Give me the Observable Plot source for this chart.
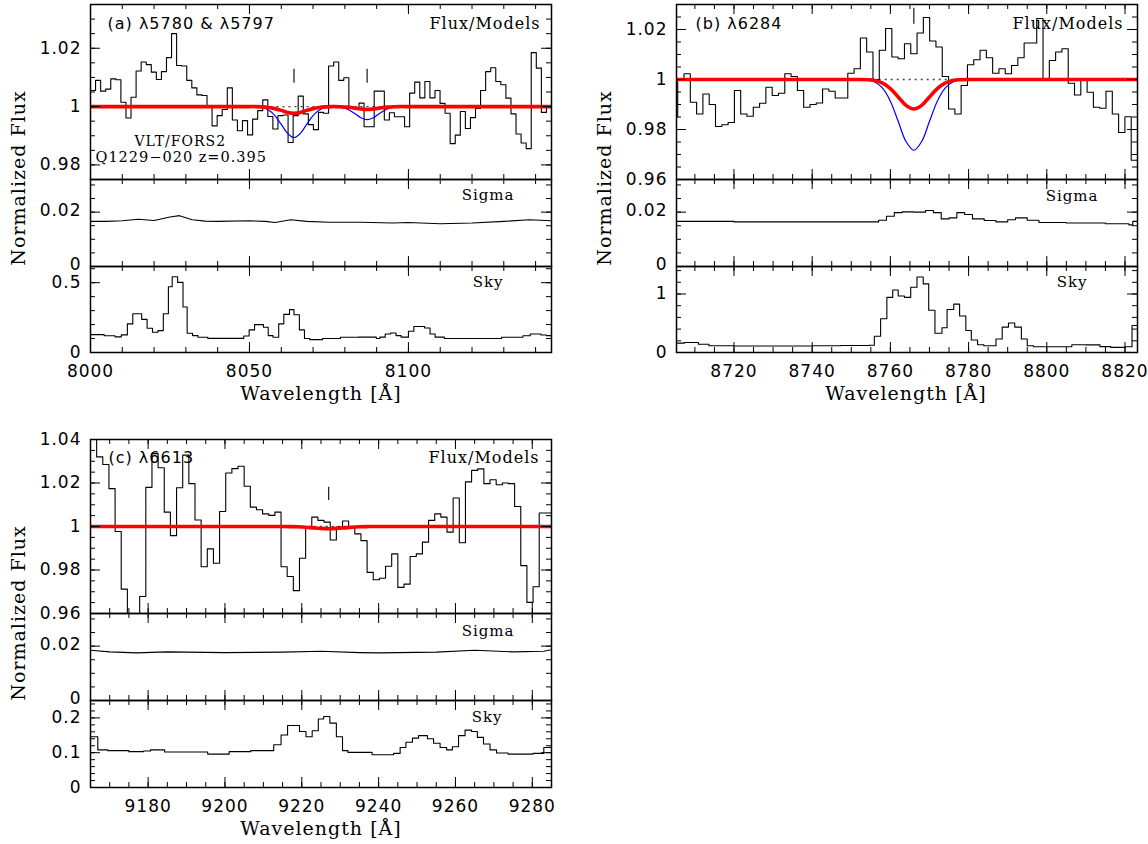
<!DOCTYPE html>
<html><head><meta charset="utf-8">
<script src="https://cdn.jsdelivr.net/npm/d3@7"></script>
<script src="https://cdn.jsdelivr.net/npm/@observablehq/plot@0.6"></script>
<style>
body{margin:0;background:#fff;}
#fig{position:relative;width:1148px;height:844px;overflow:hidden;background:#fff;}
.pl{position:absolute;}
.ttl{position:absolute;font-family:"DejaVu Serif";font-size:19px;letter-spacing:1px;white-space:nowrap;color:#000;transform:translate(-50%,-50%);}
.ttl.rot{transform:translate(-50%,-50%) rotate(-90deg);}
</style></head><body><div id="fig"></div>
<script>
// ---------------- DATA ----------------
// Panel (a): lambda5780 & lambda5797
const fluxA_start = 8000, fluxA_end = 8145;
const fluxA = [1.0055,1.009,1.0053,1.006,1.0095,1.0092,1.0015,0.9961,1.0032,1.0122,
 1.0153,1.0144,1.0118,1.0093,1.012,1.0168,1.025,1.0141,1.0139,1.009,
 1.0064,1.004,1.0038,0.9998,0.9934,0.9969,0.999,1.0064,0.9954,0.9917,
 0.9952,0.9903,0.9957,0.9986,1.0023,0.9966,0.9923,0.9969,0.9971,0.9877,
 0.9969,1.0036,0.9975,0.9938,0.9921,0.998,0.9977,1.0139,1.0153,1.009,
 1.0099,0.9995,0.9995,1.0012,0.9931,0.9931,1.0053,1.0053,0.9954,0.9979,
 0.9965,0.9965,0.9931,1.0046,1.0084,1.003,1.0086,1.003,1.0055,1.0011,
 0.9977,0.9873,0.9902,0.9983,0.9925,0.9962,0.9994,1.0055,1.012,1.0133,
 1.0086,1.0075,1.0029,0.9975,0.9906,0.9875,0.9856,1.0185,1.0132,0.998,1.0];
const modelA_wl   = [8000,8050,8052,8054,8056,8058,8060,8062,8064,8066,8068,8070,8072,8074,8076,8077,8079,8081,8083,8085,8087,8089,8091,8093,8095,8097,8099,8145];
const modelA_blue = [1,1,0.9999,0.9997,0.9988,0.9969,0.9939,0.9908,0.9894,0.9908,0.9939,0.9969,0.9988,0.9997,0.9999,0.9999,0.9997,0.999,0.9977,0.9962,0.9955,0.9962,0.9977,0.999,0.9997,0.9999,1,1];
const modelA_red  = [1,1,1,0.9999,0.9997,0.9993,0.9987,0.998,0.9977,0.998,0.9987,0.9993,0.9997,0.9999,1,1,0.9999,0.9998,0.9995,0.9992,0.999,0.9992,0.9995,0.9998,0.9999,1,1,1];
const contA_wl = [8053, 8096];
const linesA_wl = [8064, 8087], linesA_y1 = 1.008, linesA_y2 = 1.0128;
const sigA_wl  = [8000,8005,8010,8015,8020,8025,8028,8032,8036,8040,8050,8055,8058,8063,8068,8075,8085,8095,8100,8110,8120,8130,8138,8145];
const sigA_val = [0.0166,0.0166,0.0168,0.0174,0.0169,0.0182,0.0187,0.0172,0.0167,0.0166,0.0168,0.0166,0.0162,0.0172,0.0166,0.0163,0.0163,0.016,0.0162,0.0157,0.016,0.0166,0.0172,0.0168];
const skyA_wl  = [8000,8004.3,8007.7,8009.7,8011.6,8013.3,8016.1,8017.8,8019.5,8021.2,8022.9,8024.5,8025.7,8027.4,8029.1,8030.4,8032.1,8033.8,8036.9,8048.2,8049.9,8051.6,8054.4,8055.9,8057.4,8059.2,8060.8,8062.6,8064.0,8065.7,8067.3,8069.0,8073.0,8078.6,8084.2,8089.9,8091.0,8092.7,8094.4,8096.1,8097.7,8100.0,8101.7,8105.1,8106.8,8108.4,8111.3,8118.0,8129.3,8136.0,8138.3,8141.7,8143.4];
const skyA_val = [0.128,0.12,0.112,0.126,0.205,0.278,0.237,0.174,0.145,0.157,0.278,0.471,0.543,0.502,0.326,0.138,0.121,0.109,0.101,0.118,0.162,0.2,0.181,0.121,0.109,0.205,0.273,0.307,0.27,0.162,0.1,0.092,0.1,0.109,0.11,0.1,0.11,0.133,0.14,0.121,0.11,0.152,0.186,0.175,0.133,0.11,0.1,0.1,0.109,0.12,0.133,0.125,0.121];

// Panel (b): lambda6284
const fluxB_start = 8704.0, fluxB_end = 8823.2;
const fluxB = [0.9851,0.9996,1.0023,0.9909,0.9862,0.9942,0.99,0.9812,0.9819,0.9828,
 0.9956,0.9862,0.9853,0.9889,0.9905,0.9969,0.9936,0.9945,1.0023,1.0012,
 0.9956,0.9889,0.99,0.9906,0.9962,0.9953,0.9926,0.9926,1.0025,1.0043,
 1.0166,1.011,1.0,1.0117,1.0204,1.009,1.0083,1.0143,1.0103,1.0186,
 1.0248,1.0154,1.013,1.0012,0.9882,0.9862,0.9976,1.0059,1.0079,1.0117,
 1.0087,1.0025,1.0043,1.0023,1.0056,1.0087,1.0146,1.0146,1.0244,1.0,
 1.0076,1.011,1.0123,0.9985,0.9938,1.0,0.9949,0.9889,0.9885,0.9953,
 0.9862,0.9788,0.9851,0.9677];
const modelB_wl   = [8705,8748,8750,8752,8754,8756,8758,8760,8762,8764,8766,8768,8770,8772,8774,8776,8778,8780,8782,8784,8824];
const modelB_blue = [1,1,1,0.99995,0.99975,0.999,0.99655,0.99134,0.98327,0.97518,0.9717,0.97518,0.98327,0.99134,0.99655,0.999,0.99975,0.99995,1,1,1];
const modelB_red  = [1,1,1,1,0.9999,0.99956,0.99856,0.99639,0.99303,0.98965,0.9882,0.98965,0.99303,0.99639,0.99856,0.99956,0.9999,1,1,1,1];
const contB_wl = [8751, 8782];
const linesB_wl = [8766], linesB_y1 = 1.0221, linesB_y2 = 1.0285;
const sigB_wl  = [8705,8710,8720,8740,8755,8757,8759,8761,8763,8766,8769,8771,8773,8775,8777,8779,8781,8784,8787,8790,8792,8795,8798,8805,8815,8821,8822,8823.2];
const sigB_val = [0.0166,0.0166,0.0164,0.0164,0.0164,0.017,0.0185,0.0198,0.0201,0.02,0.0206,0.0198,0.0175,0.0179,0.0198,0.0191,0.0175,0.0169,0.0164,0.0172,0.0179,0.017,0.0162,0.016,0.0157,0.0153,0.0166,0.0166];
const skyB_wl  = [8705.3,8707.3,8710.9,8713.6,8720,8740,8747.3,8754.5,8755.9,8757.5,8759.1,8760.6,8762.0,8763.6,8765.2,8766.8,8768.4,8769.8,8771.4,8773.2,8774.5,8776.2,8777.7,8779.3,8780.7,8782.3,8783.9,8787.0,8788.6,8790.2,8791.8,8793.5,8795.0,8796.6,8806.4,8810,8813.6,8816.4,8820.0,8821.8];
const skyB_val = [0.16,0.17,0.14,0.116,0.11,0.116,0.12,0.125,0.277,0.578,0.942,1.069,0.965,0.942,1.116,1.29,1.173,0.723,0.33,0.422,0.734,0.827,0.624,0.376,0.214,0.133,0.116,0.231,0.434,0.503,0.434,0.231,0.116,0.098,0.133,0.13,0.1,0.087,0.098,0.462];

// Panel (c): lambda6613
const fluxC_start = 9165, fluxC_end = 9285;
const fluxC = [1.041,1.032,1.0285,1.0174,0.9977,0.9712,0.955,0.955,0.9678,1.018,
 1.0335,1.027,1.0066,0.9958,1.0178,1.0328,1.0197,1.003,0.9815,0.9897,
 0.9831,1.0069,1.0246,1.0266,1.0277,1.0185,1.0089,1.0077,1.0058,1.0051,
 1.0066,0.9815,0.977,0.9705,0.9854,0.9997,1.0043,1.0028,1.002,0.9938,
 0.9997,1.0025,0.9994,0.9966,0.9935,0.9789,0.9755,0.9762,0.9817,0.9874,
 0.972,0.9735,0.9862,0.9874,0.9928,1.0028,1.0058,1.0043,0.9974,1.0131,
 0.9925,1.0205,1.0258,1.0265,1.0197,1.0215,1.0192,1.02,1.0197,1.0092,
 0.982,0.9651,0.9723,1.0062,1.0062];
const modelC_wl  = [9165,9215,9217,9219,9221,9223,9225,9227,9229,9231,9233,9235,9237,9239,9285];
const modelC_red = [1,1,0.99996,0.99986,0.99967,0.99938,0.99912,0.999,0.99912,0.99938,0.99967,0.99986,0.99996,1,1];
const contC_wl = [9217, 9237];
const linesC_wl = [9227], linesC_y1 = 1.012, linesC_y2 = 1.018;
const sigC_wl  = [9165,9170,9177,9185,9200,9215,9225,9235,9240,9255,9265,9275,9283,9285];
const sigC_val = [0.0185,0.0179,0.0175,0.0179,0.0176,0.0178,0.0181,0.0176,0.0175,0.0178,0.0185,0.0179,0.0181,0.0187];
const skyC_wl  = [9165,9166.9,9169.5,9175.0,9178.8,9180.6,9184.3,9195.5,9201.1,9206.7,9212.7,9214.6,9216.3,9219.4,9221.1,9222.7,9224.3,9225.7,9227.3,9229.0,9230.6,9232.0,9238.3,9243.9,9245.6,9247.1,9248.8,9250.4,9252.7,9254.3,9256.0,9257.7,9259.2,9260.8,9262.5,9264.2,9265.7,9267.3,9269.0,9270.7,9273.7,9280.2,9283.0];
const skyC_val = [0.146,0.108,0.106,0.103,0.105,0.108,0.102,0.096,0.103,0.106,0.123,0.151,0.178,0.161,0.146,0.163,0.197,0.204,0.185,0.146,0.106,0.101,0.094,0.098,0.115,0.13,0.142,0.149,0.14,0.127,0.115,0.108,0.117,0.149,0.165,0.161,0.144,0.125,0.108,0.099,0.096,0.098,0.115];

// tick labels
const xTicksA = [8000, 8050, 8100];
const xTicksB = [8720, 8740, 8760, 8780, 8800, 8820];
const xTicksC = [9180, 9200, 9220, 9240, 9260, 9280];
const yFluxA = [0.98, 1, 1.02], yFluxB = [0.96, 0.98, 1, 1.02], yFluxC = [0.96, 0.98, 1, 1.02, 1.04];
const ySigma = [0, 0.02];
const ySkyA = [0, 0.5], ySkyB = [0, 1], ySkyC = [0, 0.1, 0.2];

// ---------------- HELPERS ----------------
const fig = document.getElementById("fig");
const W = 461, ML = 80, MR = 4, MT = 2;
const FONT = "DejaVu Sans", SERIF = "DejaVu Serif";
function range(lo, hi, step) {
  const out = [];
  for (let k = Math.ceil(lo / step - 1e-9); k * step <= hi + 1e-9; k++) out.push(+(k * step).toFixed(6));
  return out;
}
function binSteps(start, end, vals) {
  const step = (end - start) / vals.length;
  const pts = vals.map((v, i) => ({x: start + i * step, y: v}));
  pts.push({x: end, y: vals[vals.length - 1]});
  return pts;
}
function pairs(xs, ys, xEnd) {
  const pts = xs.map((x, i) => ({x, y: ys[i]}));
  if (xEnd != null) pts.push({x: xEnd, y: ys[ys.length - 1]});
  return pts;
}
const fmt = d => String(+d.toFixed(4));

function sub({left, top, h, xd, yd, xMaj, xMinStep, yMaj, yMinStep, showX, marks, labelDy = 0}) {
  const MB = showX ? 40 : 2;
  const xMin = range(xd[0], xd[1], xMinStep), yMin = range(yd[0], yd[1], yMinStep);
  const xM = xMaj.filter(v => v >= xd[0] && v <= xd[1]);
  const yM = yMaj.filter(v => v >= yd[0] - 1e-9 && v <= yd[1] + 1e-9);
  const tk = {stroke: "black", strokeWidth: 1};
  const p = Plot.plot({
    width: ML + W + MR, height: MT + h + MB,
    marginLeft: ML, marginRight: MR, marginTop: MT, marginBottom: MB,
    x: {domain: xd, label: null, axis: null},
    y: {domain: yd, label: null, axis: null},
    style: {fontFamily: FONT, fontSize: "17px", letterSpacing: "1px", background: "transparent", overflow: "visible", color: "black"},
    marks: [
      ...marks,
      Plot.tickX(xMin, {x: d => d, insetBottom: h - 5, ...tk}),
      Plot.tickX(xMin, {x: d => d, insetTop: h - 5, ...tk}),
      Plot.tickX(xM, {x: d => d, insetBottom: h - 10, ...tk}),
      Plot.tickX(xM, {x: d => d, insetTop: h - 10, ...tk}),
      Plot.tickY(yMin, {y: d => d, insetRight: W - 5, ...tk}),
      Plot.tickY(yMin, {y: d => d, insetLeft: W - 5, ...tk}),
      Plot.tickY(yM, {y: d => d, insetRight: W - 10, ...tk}),
      Plot.tickY(yM, {y: d => d, insetLeft: W - 10, ...tk}),
      Plot.axisY({ticks: yM, tickSize: 0, tickPadding: 9, tickFormat: fmt, label: null, fontSize: 17, fill: "black", dy: labelDy}),
      showX ? Plot.axisX({ticks: xM, tickSize: 0, tickPadding: 12, tickFormat: d => String(d), label: null, fontSize: 17, fill: "black"}) : null,
      Plot.frame({stroke: "black", strokeWidth: 1.5})
    ]
  });
  const div = document.createElement("div");
  div.className = "pl";
  div.style.left = (left - ML) + "px";
  div.style.top = (top - MT) + "px";
  div.appendChild(p);
  fig.appendChild(div);
}
function corner(text, anchor, dx, dy, font, size) {
  return Plot.text([text], {text: d => d, frameAnchor: anchor, dx, dy,
    textAnchor: anchor.endsWith("right") ? "end" : "start", lineAnchor: "middle",
    fontFamily: font, fontSize: size, fill: "black"});
}
function fluxMarks(start, end, vals, mwl, blue, red, cont, lwl, ly1, ly2) {
  const m = [
    Plot.ruleY([1], {x1: cont[0], x2: cont[1], y: d => d, stroke: "#444", strokeWidth: 1.3, strokeDasharray: "2,4"}),
    Plot.line(binSteps(start, end, vals), {x: "x", y: "y", curve: "step-after", stroke: "black", strokeWidth: 1.1, clip: true})
  ];
  if (blue) m.push(Plot.line(pairs(mwl, blue), {x: "x", y: "y", curve: "catmull-rom", stroke: "#0000ff", strokeWidth: 1.2, clip: true}));
  m.push(Plot.line(pairs(mwl, red), {x: "x", y: "y", curve: "catmull-rom", stroke: "#ff0000", strokeWidth: 3.6, clip: true}));
  m.push(Plot.ruleX(lwl, {x: d => d, y1: ly1, y2: ly2, stroke: "black", strokeWidth: 1.1}));
  return m;
}

// ---------------- PANEL (a) ----------------
const A = {left: 90, xd: [8000, 8145], xMaj: xTicksA, xMinStep: 10};
sub({...A, top: 4, h: 175, yd: [0.975, 1.035], yMaj: yFluxA, yMinStep: 0.005, showX: false,
  marks: [
    ...fluxMarks(fluxA_start, fluxA_end, fluxA, modelA_wl, modelA_blue, modelA_red, contA_wl, linesA_wl, linesA_y1, linesA_y2),
    corner("(a) λ5780 & λ5797", "top-left", 17, 19, FONT, 16),
    corner("Flux/Models", "top-right", -11, 19, SERIF, 16),
    corner("VLT/FORS2", "top-left", 44, 137, SERIF, 14),
    corner("Q1229−020 z=0.395", "top-left", 5, 153, SERIF, 14.5)
  ]});
sub({...A, top: 179, h: 87, yd: [0, 0.032], yMaj: ySigma, yMinStep: 0.005, showX: false, labelDy: -2,
  marks: [
    Plot.line(pairs(sigA_wl, sigA_val), {x: "x", y: "y", stroke: "black", strokeWidth: 1.1, clip: true}),
    corner("Sigma", "top-right", -37, 16, SERIF, 15)
  ]});
sub({...A, top: 266, h: 86, yd: [0, 0.616], yMaj: ySkyA, yMinStep: 0.1, showX: true, labelDy: 0,
  marks: [
    Plot.line(pairs(skyA_wl, skyA_val, 8145), {x: "x", y: "y", curve: "step-after", stroke: "black", strokeWidth: 1.1, clip: true}),
    corner("Sky", "top-right", -48, 16, SERIF, 15)
  ]});

// ---------------- PANEL (b) ----------------
const B = {left: 676, xd: [8705.3, 8823.2], xMaj: xTicksB, xMinStep: 5};
sub({...B, top: 4, h: 175, yd: [0.96, 1.03], yMaj: yFluxB, yMinStep: 0.005, showX: false,
  marks: [
    ...fluxMarks(fluxB_start, fluxB_end, fluxB, modelB_wl, modelB_blue, modelB_red, contB_wl, linesB_wl, linesB_y1, linesB_y2),
    corner("(b) λ6284", "top-left", 19, 19, FONT, 16),
    corner("Flux/Models", "top-right", -14, 19, SERIF, 16)
  ]});
sub({...B, top: 179, h: 87, yd: [0, 0.032], yMaj: ySigma, yMinStep: 0.005, showX: false, labelDy: -2,
  marks: [
    Plot.line(pairs(sigB_wl, sigB_val), {x: "x", y: "y", curve: "step-after", stroke: "black", strokeWidth: 1.1, clip: true}),
    corner("Sigma", "top-right", -39, 17, SERIF, 15)
  ]});
sub({...B, top: 266, h: 86, yd: [0, 1.47], yMaj: ySkyB, yMinStep: 0.2, showX: true, labelDy: 0,
  marks: [
    Plot.line(pairs(skyB_wl, skyB_val, 8823.2), {x: "x", y: "y", curve: "step-after", stroke: "black", strokeWidth: 1.1, clip: true}),
    corner("Sky", "top-right", -50, 16, SERIF, 15)
  ]});

// ---------------- PANEL (c) ----------------
const C = {left: 90, xd: [9165, 9285], xMaj: xTicksC, xMinStep: 5};
sub({...C, top: 439, h: 174, yd: [0.96, 1.04], yMaj: yFluxC, yMinStep: 0.005, showX: false,
  marks: [
    ...fluxMarks(fluxC_start, fluxC_end, fluxC, modelC_wl, null, modelC_red, contC_wl, linesC_wl, linesC_y1, linesC_y2),
    corner("(c) λ6613", "top-left", 18, 18, FONT, 16),
    corner("Flux/Models", "top-right", -12, 18, SERIF, 16)
  ]});
sub({...C, top: 613, h: 87, yd: [0, 0.032], yMaj: ySigma, yMinStep: 0.005, showX: false, labelDy: -2,
  marks: [
    Plot.line(pairs(sigC_wl, sigC_val), {x: "x", y: "y", stroke: "black", strokeWidth: 1.1, clip: true}),
    corner("Sigma", "top-right", -37, 18, SERIF, 15)
  ]});
sub({...C, top: 700, h: 87, yd: [0, 0.25], yMaj: ySkyC, yMinStep: 0.02, showX: true, labelDy: 0,
  marks: [
    Plot.line(pairs(skyC_wl, skyC_val, 9285), {x: "x", y: "y", curve: "step-after", stroke: "black", strokeWidth: 1.1, clip: true}),
    corner("Sky", "top-right", -49, 17, SERIF, 15)
  ]});

// ---------------- AXIS TITLES ----------------
function title(text, x, y, rot) {
  const d = document.createElement("div");
  d.className = "ttl" + (rot ? " rot" : "");
  d.style.left = x + "px"; d.style.top = y + "px";
  d.textContent = text;
  fig.appendChild(d);
}
title("Normalized Flux", 18, 178, true);
title("Normalized Flux", 604, 178, true);
title("Normalized Flux", 18, 613, true);
title("Wavelength [Å]", 321, 393, false);
title("Wavelength [Å]", 906, 393, false);
title("Wavelength [Å]", 321, 828, false);
</script></body></html>
